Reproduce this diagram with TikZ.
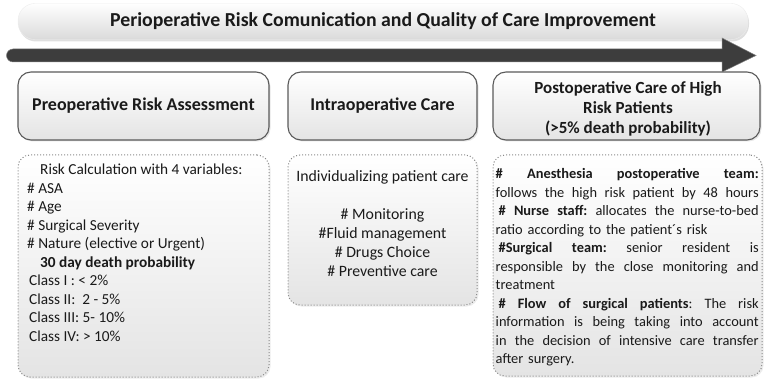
\documentclass[tikz,border=0pt]{standalone}
\usepackage{fontspec}
\setmainfont{Carlito}
\usetikzlibrary{shadows,calc}
\definecolor{boxline}{HTML}{5A5A5A}
\definecolor{boxbottom}{HTML}{E4E4E4}
\definecolor{dotline}{HTML}{8A8A8A}
\definecolor{arrowgray}{HTML}{3D3D3D}
\definecolor{txt}{HTML}{1A1A1A}
\newcommand\postjust[1]{\leavevmode\hbox to 263pt{\spaceskip=0.226em plus 1fil\xspaceskip=0.226em plus 1fil #1}}
\begin{document}
\begin{tikzpicture}[x=1pt,y=-1pt,
  titlebox/.style={rounded corners=17pt, top color=white, bottom color=boxbottom!90!gray,
    draw=white!85!gray, line width=0.4pt,
    drop shadow={shadow xshift=1pt, shadow yshift=-2pt, opacity=0.25},
    minimum width=730pt, minimum height=36pt, inner sep=0pt,
    font=\fontsize{19.8}{22}\selectfont\bfseries, text=txt},
  headbox/.style={draw=boxline, line width=1.1pt, rounded corners=13pt,
    top color=white, bottom color=boxbottom,
    drop shadow={shadow xshift=1.5pt, shadow yshift=-1.5pt, opacity=0.2},
    minimum height=68pt, inner sep=0pt, align=center, text=txt},
  infobox/.style={draw=dotline, dotted, line width=1pt, rounded corners=12pt,
    top color=white, bottom color=boxbottom,
    drop shadow={shadow xshift=1.5pt, shadow yshift=-1.5pt, opacity=0.15},
    inner sep=0pt},
  bodytext/.style={inner sep=0pt, text=txt}
]
\useasboundingbox (0,0) rectangle (767,379);

% title
\node[titlebox] (title) at (383,21.5) {Perioperative Risk Comunication and Quality of Care Improvement};

% big arrow
\coordinate (arrstart) at (13,55.5);
\coordinate (arrtip) at (756,55.5);
\fill[arrowgray, draw=gray, line width=0.5pt]
  ($(arrstart)+(0,-6.5)$) -- (722,49) -- (722,38) -- (arrtip) -- (722,72) -- (722,62)
  -- ($(arrstart)+(0,6.5)$) arc[start angle=270, end angle=90, radius=6.5pt] -- cycle;

% header boxes
\node[headbox, minimum width=251pt, font=\fontsize{18}{20}\selectfont\bfseries] (preop) at (143.5,106) {Preoperative Risk Assessment};
\node[headbox, minimum width=189pt, font=\fontsize{18}{20}\selectfont\bfseries] (intra) at (382.5,106) {Intraoperative Care};
\node[headbox, minimum width=267pt] (postop) at (626.5,106) {};
\node[inner sep=0pt, align=center, text=txt, font=\fontsize{17}{20}\selectfont\bfseries] (postoptext) at (628,108.5) {Postoperative Care of High\\Risk Patients\\(>5\% death probability)};

% info boxes
\node[infobox, minimum width=251pt, minimum height=222pt] (preinfo) at (143.5,266) {};
\node[infobox, minimum width=189pt, minimum height=150pt] (intrainfo) at (382.5,230) {};
\node[infobox, minimum width=269pt, minimum height=221pt] (postinfo) at (627.5,265.5) {};

% left text
\node[bodytext, anchor=north west, align=left, font=\fontsize{15.3}{18.5}\selectfont] (pretext) at (27,164) {%
\hspace*{13pt}Risk Calculation with 4 variables:\\
\# ASA\\
\# Age\\
\# Surgical Severity\\
\# Nature (elective or Urgent)\\
\hspace*{13pt}\textbf{30 day death probability}\\
\hspace*{2pt}Class I : < 2\%\\
\hspace*{2pt}Class II:\ \ 2 - 5\%\\
\hspace*{2pt}Class III: 5- 10\%\\
\hspace*{2pt}Class IV: > 10\%};

% middle text
\node[bodytext, anchor=north, align=center, font=\fontsize{15.8}{19}\selectfont] (intratext) at (382.5,170) {%
Individualizing patient care\\[19pt]
\# Monitoring\\
\#Fluid management\\
\# Drugs Choice\\
\# Preventive care};

% right text
\node[bodytext, anchor=north west, align=left, text width=263pt, font=\fontsize{14.4}{18.5}\selectfont] (posttext) at (495.5,168.5) {%
\postjust{\textbf{\# Anesthesia postoperative team:}}\\
\postjust{follows the high risk patient by 48 hours}\\
\postjust{\hspace*{3pt}\textbf{\# Nurse staff:} allocates the nurse-to-bed}\\
ratio according to the patient´s risk\\
\postjust{\hspace*{3pt}\textbf{\#Surgical team:} senior resident is}\\
\postjust{responsible by the close monitoring and}\\
treatment\\
\postjust{\hspace*{3pt}\textbf{\# Flow of surgical patients}: The risk}\\
\postjust{information is being taking into account}\\
\postjust{in the decision of intensive care transfer}\\
after surgery.};
\end{tikzpicture}
\end{document}
